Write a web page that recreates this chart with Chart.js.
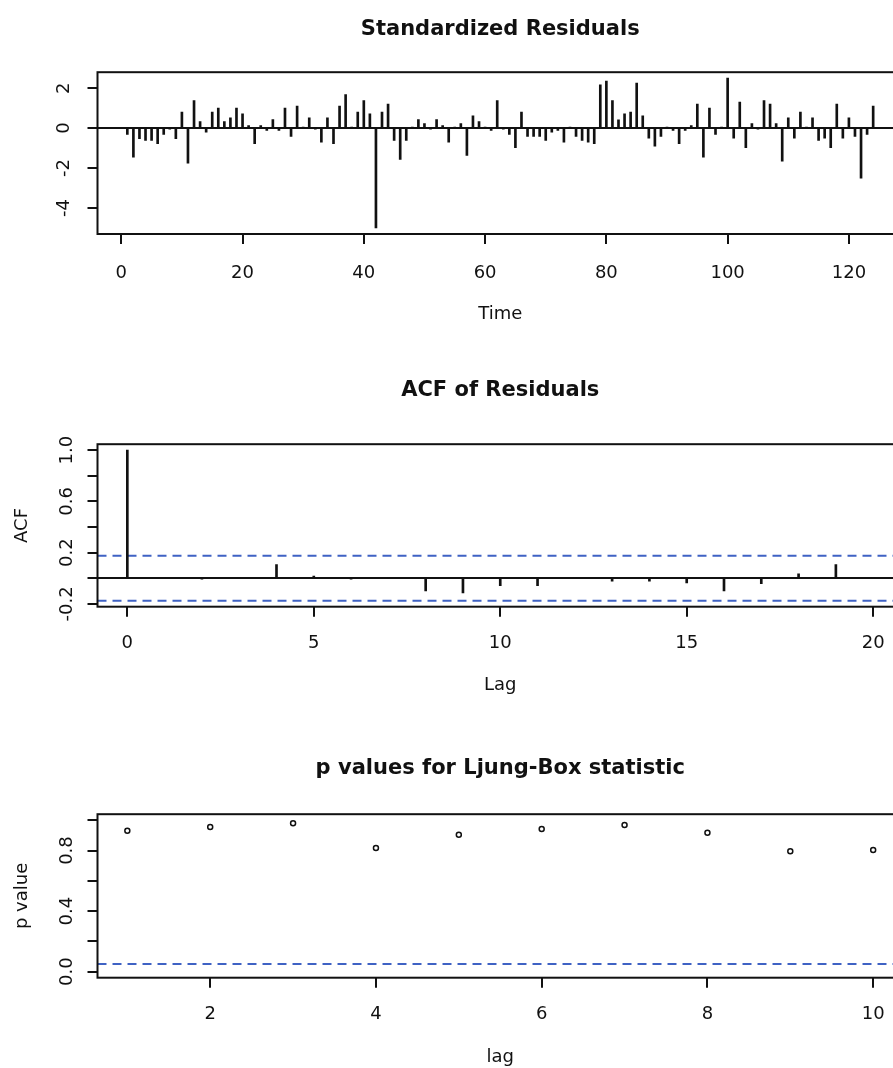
<!DOCTYPE html>
<html>
<head>
<meta charset="utf-8">
<title>tsdiag</title>
<script src="https://cdn.jsdelivr.net/npm/chart.js@4.4.1/dist/chart.umd.min.js"></script>
<style>
  html, body { margin: 0; padding: 0; background: #fff; }
  body { width: 893px; height: 1068px; overflow: hidden; position: relative; }
  .panel { position: absolute; left: 0; width: 920px; height: 356px; }
  canvas { display: block; }
</style>
</head>
<body>
<div class="panel" style="top:0px"><canvas id="resid" width="920" height="356"></canvas></div>
<div class="panel" style="top:356px"><canvas id="acf" width="920" height="356"></canvas></div>
<div class="panel" style="top:712px"><canvas id="ljung" width="920" height="356"></canvas></div>
<script>
const INK = '#111111';
const BLUE = '#3f62c4';
Chart.defaults.font.family = "'DejaVu Sans', Verdana, sans-serif";
Chart.defaults.color = INK;

// standardized residuals, time 1..124
const residuals = [
  -0.32, -1.45, -0.53, -0.62, -0.62, -0.78, -0.32, -0.05, -0.53, 0.80,
  -1.75, 1.38, 0.33, -0.20, 0.80, 1.00, 0.33, 0.52, 1.00, 0.72,
  0.13, -0.78, 0.13, -0.12, 0.43, -0.12, 1.00, -0.42, 1.10, 0.03,
  0.52, -0.04, -0.70, 0.52, -0.78, 1.10, 1.68, 0.02, 0.80, 1.38,
  0.72, -5.00, 0.80, 1.20, -0.62, -1.57, -0.62, 0.04, 0.43, 0.23,
  -0.03, 0.43, 0.13, -0.70, 0.02, 0.23, -1.37, 0.62, 0.33, 0.03,
  -0.12, 1.38, -0.04, -0.32, -0.98, 0.80, -0.42, -0.42, -0.42, -0.62,
  -0.20, -0.12, -0.70, 0.02, -0.42, -0.62, -0.70, -0.78, 2.17, 2.35,
  1.38, 0.42, 0.72, 0.80, 2.25, 0.62, -0.50, -0.90, -0.42, 0.03,
  -0.12, -0.78, -0.12, 0.13, 1.20, -1.45, 1.00, -0.32, 0.02, 2.50,
  -0.50, 1.30, -0.98, 0.23, -0.03, 1.38, 1.20, 0.23, -1.65, 0.52,
  -0.50, 0.80, 0.03, 0.52, -0.62, -0.50, -0.98, 1.20, -0.50, 0.52,
  -0.42, -2.50, -0.32, 1.10
];
const residXRange = [-3.92, 128.92];
const residYRange = [-5.3, 2.8];
const residXTicks = [0, 20, 40, 60, 80, 100, 120];
const residYTicks = [-4, -2, 0, 2];
const residYLabels = ['-4', '-2', '0', '2'];

// ACF of residuals, lag 0..20
const acfValues = [
  1.0, 0.005, -0.005, 0.004, 0.106, 0.016, -0.004, 0.003, -0.099, -0.114,
  -0.057, -0.057, 0.004, -0.023, -0.023, -0.036, -0.099, -0.042, 0.034, 0.106,
  0.004
];
const acfCI = 0.176;
const acfXRange = [-0.8, 20.8];
const acfYRange = [-0.222, 1.046];
const acfXTicks = [0, 5, 10, 15, 20];
const acfYTicks = [-0.2, 0, 0.2, 0.4, 0.6, 0.8, 1.0];
const acfYLabels = ['-0.2', '', '0.2', '', '0.6', '', '1.0'];

// Ljung-Box p values
const lbLags = [1, 2, 3, 4, 5, 6, 7, 8, 9, 10];
const lbPValues = [0.931, 0.955, 0.981, 0.817, 0.905, 0.942, 0.968, 0.918, 0.796, 0.804];
const lbLevel = 0.05;
const lbXRange = [0.64, 10.36];
const lbYRange = [-0.04, 1.04];
const lbXTicks = [2, 4, 6, 8, 10];
const lbYTicks = [0, 0.2, 0.4, 0.6, 0.8, 1.0];
const lbYLabels = ['0.0', '', '0.4', '', '0.8', ''];

// box round the plot region, like R's box()
const drawFrame = {
  id: 'drawFrame',
  afterDatasetsDraw(chart) {
    const a = chart.chartArea;
    const ctx = chart.ctx;
    ctx.save();
    ctx.strokeStyle = INK;
    ctx.lineWidth = 2;
    ctx.strokeRect(a.left, a.top, a.right - a.left, a.bottom - a.top);
    ctx.restore();
  }
};

function xAxis(range, ticks, title, p) {
  return {
    type: 'linear',
    min: range[0],
    max: range[1],
    offset: false,
    afterBuildTicks: s => { s.ticks = ticks.map(v => ({value: v})); },
    afterFit: s => { s.height = p.axisH; },
    grid: {display: true, offset: false, drawOnChartArea: false, drawTicks: true,
           tickLength: 10, tickWidth: 2, tickColor: INK, lineWidth: 2, color: INK},
    border: {display: false},
    ticks: {autoSkip: false, minRotation: 0, maxRotation: 0, padding: p.tickPad,
            font: {size: 18}, color: INK, callback: v => String(v)},
    title: {display: true, text: title, font: {size: 18}, color: INK,
            padding: {top: 0, bottom: p.titlePad}}
  };
}

function yAxis(range, ticks, labels, title, p) {
  return {
    type: 'linear',
    position: 'left',
    min: range[0],
    max: range[1],
    afterBuildTicks: s => { s.ticks = ticks.map(v => ({value: v})); },
    afterFit: s => { s.width = 97.5; },
    grid: {display: true, drawOnChartArea: p.zeroLine, drawTicks: true,
           tickLength: 10, tickWidth: 2, tickColor: INK, lineWidth: 2,
           color: c => (c.tick && c.tick.value === 0) ? INK : 'rgba(0,0,0,0)'},
    border: {display: false},
    ticks: {autoSkip: false, minRotation: 90, maxRotation: 90, crossAlign: 'center',
            padding: p.tickPad, font: {size: 18}, color: INK,
            callback: (v, i) => labels[i]},
    title: {display: title !== '', text: title, font: {size: 18}, color: INK,
            padding: {top: 12, bottom: 0}}
  };
}

function hline(range, y) {
  return {
    type: 'line',
    data: [{x: range[0], y: y}, {x: range[1], y: y}],
    borderColor: BLUE,
    borderWidth: 2,
    borderDash: [9, 6],
    pointRadius: 0,
    showLine: true,
    fill: false
  };
}

function makeChart(id, type, datasets, title, titlePad, scales) {
  return new Chart(document.getElementById(id), {
    type: type,
    data: {datasets: datasets},
    options: {
      responsive: false,
      animation: false,
      events: [],
      layout: {padding: {left: 0, top: 0, right: 17, bottom: 0}},
      plugins: {
        legend: {display: false},
        tooltip: {enabled: false},
        title: {display: true, text: title, fullSize: false, color: INK,
                font: {size: 21, weight: 'bold'},
                padding: {top: titlePad[0], bottom: titlePad[1]}}
      },
      scales: scales
    },
    plugins: [drawFrame]
  });
}

makeChart('resid', 'bar', [
  {
    type: 'bar',
    data: residuals.map((v, i) => ({x: i + 1, y: v})),
    backgroundColor: INK,
    borderWidth: 0,
    barThickness: 2
  }
], 'Standardized Residuals', [17, 30], {
  x: xAxis(residXRange, residXTicks, 'Time', {axisH: 122, tickPad: 18.5, titlePad: 31}),
  y: yAxis(residYRange, residYTicks, residYLabels, '', {zeroLine: true, tickPad: 14.5})
});

makeChart('acf', 'bar', [
  {
    type: 'bar',
    data: acfValues.map((v, i) => ({x: i, y: v})),
    backgroundColor: INK,
    borderWidth: 0,
    barThickness: 2
  },
  hline(acfXRange, acfCI),
  hline(acfXRange, -acfCI)
], 'ACF of Residuals', [22, 41], {
  x: xAxis(acfXRange, acfXTicks, 'Lag', {axisH: 105.3, tickPad: 16, titlePad: 16}),
  y: yAxis(acfYRange, acfYTicks, acfYLabels, 'ACF', {zeroLine: true, tickPad: 3})
});

makeChart('ljung', 'scatter', [
  {
    type: 'scatter',
    data: lbPValues.map((v, i) => ({x: lbLags[i], y: v})),
    pointStyle: 'circle',
    pointRadius: 2.5,
    borderWidth: 1.5,
    borderColor: INK,
    backgroundColor: 'rgba(0,0,0,0)',
    showLine: false
  },
  hline(lbXRange, lbLevel)
], 'p values for Ljung-Box statistic', [44, 33], {
  x: xAxis(lbXRange, lbXTicks, 'lag', {axisH: 90.3, tickPad: 15.5, titlePad: 0}),
  y: yAxis(lbYRange, lbYTicks, lbYLabels, 'p value', {zeroLine: false, tickPad: 6})
});
</script>
</body>
</html>
